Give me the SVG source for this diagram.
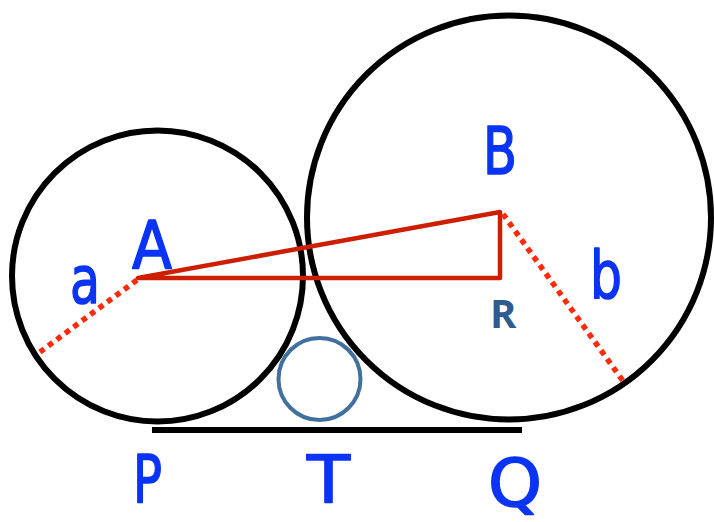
<svg xmlns="http://www.w3.org/2000/svg" width="714" height="522" viewBox="0 0 714 522">
<style>
.big{fill:none;stroke:#000;stroke-width:6}
.red{fill:none;stroke:#cc1f00;stroke-width:4.5;stroke-linejoin:round;stroke-linecap:round}
.dot{fill:none;stroke:#ff2a0a;stroke-width:5.5;stroke-dasharray:5.5 5}
.lbl{font-family:"DejaVu Sans",sans-serif;font-size:66px;fill:#0a34f5;stroke:#0a34f5;stroke-width:1.6;stroke-linejoin:round}
.r{font-family:"Open Sans","Liberation Sans",sans-serif;font-weight:bold;font-size:40px;fill:#2f5b8f}
</style>
<rect width="714" height="522" fill="#fff"/>
<g id="circleA"><circle class="big" cx="157.5" cy="276" r="145.5"/></g>
<g id="circleB"><circle class="big" cx="509" cy="217.5" r="202"/></g>
<g id="circleT"><circle cx="319.5" cy="379" r="41" fill="none" stroke="#41709e" stroke-width="4"/></g>
<g id="connectors">
<line x1="152" y1="430" x2="522" y2="430" stroke="#000" stroke-width="6"/>
<path class="red" d="M138 278 L500 212 L500 278 Z"/>
<line class="dot" x1="137" y1="280" x2="40" y2="352"/>
<line class="dot" x1="503" y1="214" x2="623" y2="381"/>
</g>
<g id="labels">
<text class="lbl" x="132" y="268" textLength="40" lengthAdjust="spacingAndGlyphs">A</text>
<text class="lbl" x="70" y="303" textLength="30" lengthAdjust="spacingAndGlyphs">a</text>
<text class="lbl" x="483" y="174" textLength="34" lengthAdjust="spacingAndGlyphs">B</text>
<text class="lbl" x="590" y="298" textLength="32" lengthAdjust="spacingAndGlyphs">b</text>
<text class="lbl" x="133" y="502" textLength="29" lengthAdjust="spacingAndGlyphs">P</text>
<text class="lbl" x="307" y="503" textLength="43" lengthAdjust="spacingAndGlyphs">T</text>
<text class="lbl" x="488" y="506" textLength="54" lengthAdjust="spacingAndGlyphs">Q</text>
<text class="r" x="490" y="328">R</text>
</g>
</svg>
